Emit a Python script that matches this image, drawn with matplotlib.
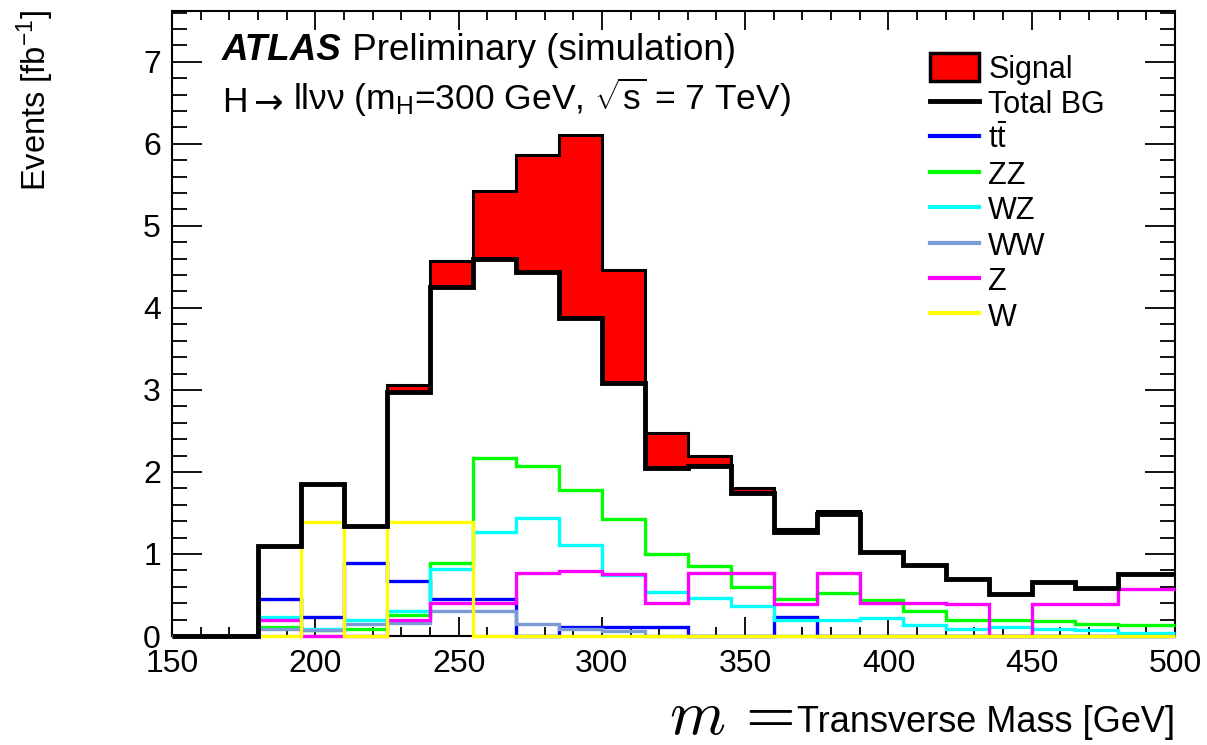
import matplotlib
matplotlib.use("Agg")
import matplotlib.pyplot as plt
import numpy as np
from matplotlib.patches import Patch
from matplotlib.lines import Line2D

plt.rcParams['font.family'] = ['Liberation Sans', 'DejaVu Sans']
plt.rcParams['mathtext.fontset'] = 'custom'
plt.rcParams['mathtext.rm'] = 'Liberation Sans'
plt.rcParams['mathtext.it'] = 'Liberation Sans:italic'

# 15 GeV bins from 150, last one cut by the axis at 500
edges = np.append(np.arange(150, 500, 15), 500)

total_bg = [0, 0, 1.10, 1.85, 1.34, 2.97, 4.26, 4.59, 4.44, 3.88, 3.08, 2.05,
            2.07, 1.74, 1.27, 1.49, 1.03, 0.86, 0.69, 0.51, 0.66, 0.58, 0.75, 0.75]
signal = [0, 0, 0, 0, 0, 0.09, 0.31, 0.84, 1.42, 2.23, 1.38, 0.42,
          0.12, 0.06, 0.04, 0.03, 0, 0, 0, 0, 0, 0, 0, 0]
ttbar = [0, 0, 0.45, 0.23, 0.89, 0.67, 0.45, 0.45, 0, 0.11, 0.11, 0.11,
         0, 0, 0.23, 0, 0, 0, 0, 0, 0, 0, 0, 0]
zz = [0, 0, 0.11, 0.07, 0.08, 0.26, 0.89, 2.17, 2.07, 1.78, 1.43, 1.00,
      0.85, 0.60, 0.45, 0.53, 0.44, 0.30, 0.20, 0.19, 0.18, 0.15, 0.13, 0.13]
wz = [0, 0, 0.23, 0.09, 0.20, 0.31, 0.82, 1.27, 1.44, 1.11, 0.74, 0.54,
      0.46, 0.37, 0.20, 0.20, 0.22, 0.13, 0.08, 0.11, 0.09, 0.07, 0.04, 0.04]
ww = [0, 0, 0.08, 0.07, 0.15, 0.16, 0.31, 0.30, 0.15, 0.08, 0.06, 0,
      0, 0, 0, 0, 0, 0, 0, 0, 0, 0, 0, 0]
zjets = [0, 0, 0.20, 0, 0, 0.20, 0.40, 0.40, 0.77, 0.79, 0.76, 0.40,
         0.77, 0.77, 0.39, 0.77, 0.40, 0.40, 0.39, 0, 0.39, 0.39, 0.57, 0.57]
wjets = [0, 0, 0, 1.39, 0, 1.39, 1.39, 0, 0, 0, 0, 0,
         0, 0, 0, 0, 0, 0, 0, 0, 0, 0, 0, 0]

components = [
    (ttbar, '#0000ff', r't$\bar{\mathrm{t}}$'),
    (zz, '#00ff00', 'ZZ'),
    (wz, '#00ffff', 'WZ'),
    (ww, '#7b9bd6', 'WW'),
    (zjets, '#ff00ff', 'Z'),
    (wjets, '#ffff00', 'W'),
]

total_bg = np.array(total_bg)
signal = np.array(signal)

fig = plt.figure(figsize=(12.07, 7.45), dpi=100)
ax = fig.add_axes([0.1425, 0.1463, 0.831, 0.8390])

# signal stacked on top of the background
ax.stairs(total_bg + signal, edges, baseline=total_bg, fill=True, color='#ff0000', lw=0)
ax.stairs(total_bg + signal, edges, color='black', lw=2.2, baseline=None)

for vals, col, lab in components:
    ax.stairs(vals, edges, color=col, lw=2.4, baseline=None, clip_on=False, zorder=3)

ax.stairs(total_bg, edges, color='black', lw=3.5, baseline=None, clip_on=False, zorder=3)

ax.set_xlim(150, 500)
ax.set_ylim(0, 7.62)

ax.set_xticks(np.arange(150, 501, 50))
ax.set_xticks(np.arange(150, 501, 10), minor=True)
ax.set_yticks(np.arange(0, 8, 1))
ax.set_yticks(np.arange(0, 7.61, 0.2), minor=True)
ax.tick_params(axis='both', which='both', direction='in', top=True, right=True,
               width=1.3, labelsize=23)
ax.tick_params(axis='y', which='major', length=21.5, pad=8)
ax.tick_params(axis='y', which='minor', length=10.8)
ax.tick_params(axis='x', which='major', length=13.5, pad=9)
ax.tick_params(axis='x', which='minor', length=6.8)
for s in ax.spines.values():
    s.set_linewidth(1.5)

# axis titles
fig.text(0.029, 0.987, r'Events [fb$^{\mathregular{-1}}$]', rotation=90,
         ha='center', va='top', fontsize=23.5)
xl = fig.text(0.9735, 0.018, 'Transverse Mass [GeV]', ha='right', va='baseline', fontsize=26)
ax.annotate(r'$m\,=$', xy=(0, 0), xycoords=xl, xytext=(-2, 4), textcoords='offset points',
            ha='right', va='baseline', fontsize=46, math_fontfamily='cm')

# ATLAS label
t = ax.text(0.0498, 0.921, 'ATLAS', transform=ax.transAxes, fontsize=26.5,
            fontweight='bold', fontstyle='italic')
ax.annotate(' Preliminary (simulation)', xy=(1, 0), xycoords=t, va='bottom',
            ha='left', fontsize=26.5)
h = ax.text(0.0498, 0.838, 'H', transform=ax.transAxes, fontsize=25.5)
arr = ax.annotate('→', xy=(1, 0), xycoords=h, xytext=(4.5, 0), textcoords='offset points',
                  va='bottom', ha='left', fontsize=25.5, family='DejaVu Sans')
ax.annotate(r'llνν (m$_{\mathrm{H}}$=300 GeV, $\sqrt{\mathrm{s}}$ = 7 TeV)', xy=(1, 0),
            xycoords=arr, xytext=(7, 0), textcoords='offset points',
            va='bottom', ha='left', fontsize=25.5)

handles = [Patch(facecolor='#ff0000', edgecolor='black', lw=2.5),
           Line2D([], [], color='black', lw=3.5)]
labels = ['Signal', 'Total BG']
for vals, col, lab in components:
    handles.append(Line2D([], [], color=col, lw=3))
    labels.append(lab)
ax.legend(handles, labels, loc='upper left', bbox_to_anchor=(0.756, 0.932),
          frameon=False, fontsize=22, handlelength=1.6, handleheight=1.0,
          handletextpad=0.3, labelspacing=0.14, borderpad=0, borderaxespad=0)

fig.savefig('out.png', dpi=100)
